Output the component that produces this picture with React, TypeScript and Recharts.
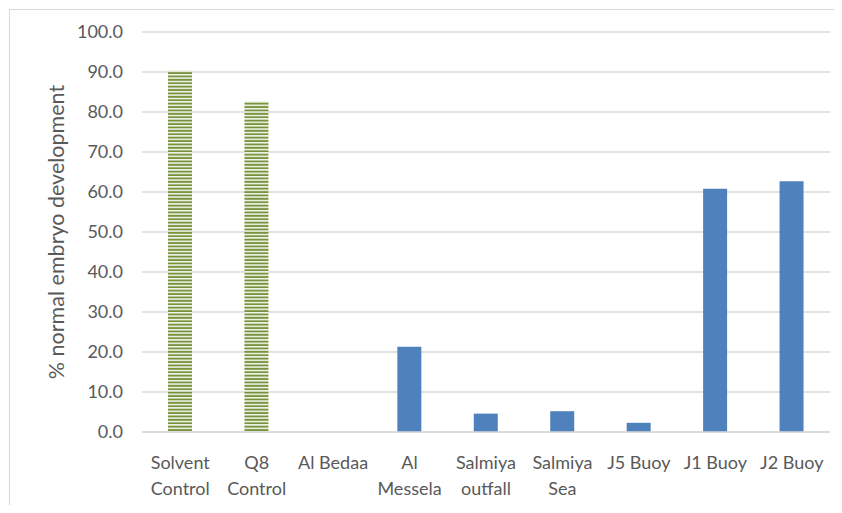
import React from "react";
import { BarChart, Bar, XAxis, YAxis, CartesianGrid, Cell } from "recharts";

const categories = [
  "Solvent Control",
  "Q8 Control",
  "Al Bedaa",
  "Al Messela",
  "Salmiya outfall",
  "Salmiya Sea",
  "J5 Buoy",
  "J1 Buoy",
  "J2 Buoy",
];
const categoryLines = [
  ["Solvent", "Control"],
  ["Q8", "Control"],
  ["Al Bedaa"],
  ["Al", "Messela"],
  ["Salmiya", "outfall"],
  ["Salmiya", "Sea"],
  ["J5 Buoy"],
  ["J1 Buoy"],
  ["J2 Buoy"],
];
const groups = ["control", "control", "site", "site", "site", "site", "site", "site", "site"];
const normalDevelopment = [90.3, 82.7, 0, 21.3, 4.6, 5.2, 2.3, 60.8, 62.7];
const yTicks = [0, 10, 20, 30, 40, 50, 60, 70, 80, 90, 100];
const yAxisTitle = "% normal embryo development";

const data = categories.map((c, i) => ({
  name: c,
  lines: categoryLines[i],
  group: groups[i],
  value: normalDevelopment[i],
}));

const FONT = "Lato, 'Open Sans', sans-serif";
const TEXT = "#595959";

const XTick = (props: any) => {
  const { x, y, index } = props;
  const lines: string[] = categoryLines[index] || [];
  return (
    <g>
      {lines.map((l, i) => (
        <text
          key={i}
          x={x}
          y={y + 29 + i * 26}
          textAnchor="middle"
          fill={TEXT}
          fontSize={18}
          fontFamily={FONT}
        >
          {l}
        </text>
      ))}
    </g>
  );
};

const YTitle = (props: any) => {
  const vb = props.viewBox || {};
  const cx = 56;
  const cy = (vb.y || 0) + (vb.height || 0) / 2;
  return (
    <text
      x={cx}
      y={cy}
      transform={`rotate(-90, ${cx}, ${cy})`}
      textAnchor="middle"
      dominantBaseline="central"
      fill={TEXT}
      fontSize={21.5}
      fontFamily={FONT}
    >
      {yAxisTitle}
    </text>
  );
};

export default function App() {
  return (
    <div style={{ margin: -8, position: "relative", width: 842, height: 513, background: "#fff" }}>
      <div
        style={{
          position: "absolute",
          left: 9,
          top: 9,
          width: 840,
          height: 501,
          border: "1px solid #d9d9d9",
          boxSizing: "border-box",
        }}
      />
      <div style={{ position: "absolute", left: 0, top: 0 }}>
        <BarChart
          width={842}
          height={513}
          data={data}
          margin={{ top: 32, right: 12, bottom: 0, left: 0 }}
          barSize={24}
        >
          <defs>
            <pattern id="greenStripes" patternUnits="userSpaceOnUse" width={8} height={3.4}>
              <rect x={0} y={0} width={8} height={3.4} fill="#ffffff" />
              <rect x={0} y={0.6} width={8} height={2} fill="#77933C" />
            </pattern>
          </defs>
          <CartesianGrid vertical={false} stroke="#d9d9d9" strokeWidth={1.3} />
          <XAxis
            dataKey="name"
            height={81}
            tickLine={false}
            axisLine={{ stroke: "#d9d9d9", strokeWidth: 1.3 }}
            tick={<XTick />}
            interval={0}
          />
          <YAxis
            width={142}
            domain={[0, 100]}
            ticks={yTicks}
            tickFormatter={(v: number) => v.toFixed(1)}
            axisLine={false}
            tickLine={false}
            tickSize={0}
            tickMargin={19}
            tick={{ fill: TEXT, fontSize: 18, fontFamily: FONT }}
            label={<YTitle />}
          />
          <Bar dataKey="value" isAnimationActive={false}>
            {data.map((d, i) => (
              <Cell key={i} fill={d.group === "control" ? "url(#greenStripes)" : "#4F81BD"} />
            ))}
          </Bar>
        </BarChart>
      </div>
    </div>
  );
}
